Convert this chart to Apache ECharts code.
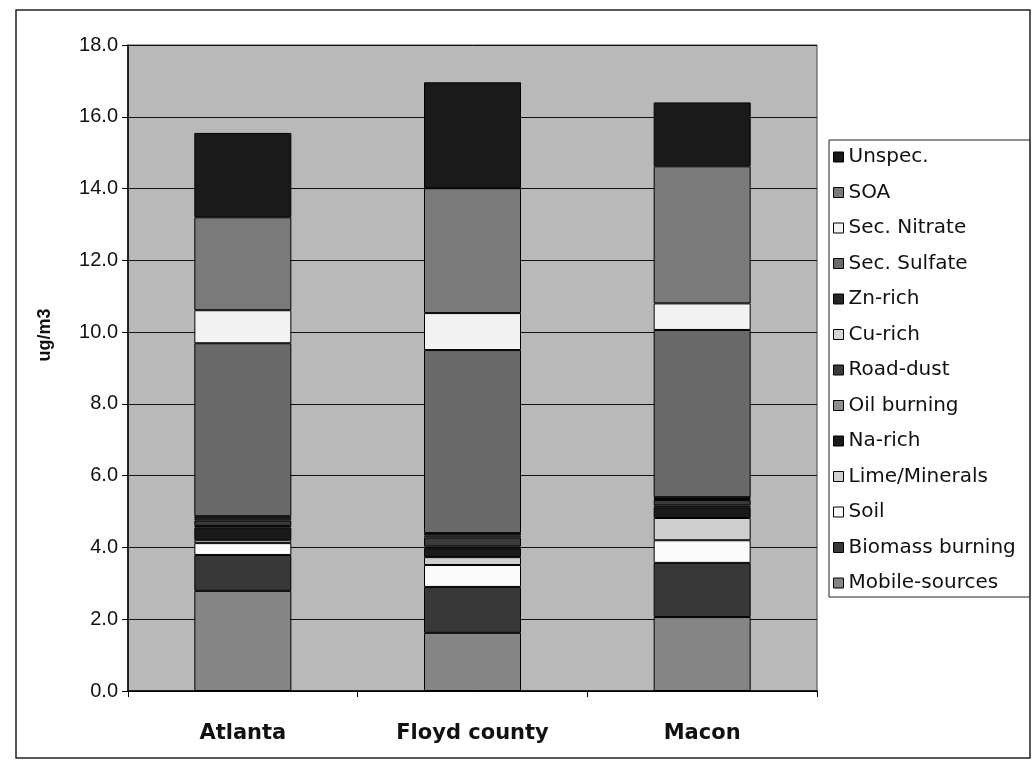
<!DOCTYPE html>
<html>
<head>
<meta charset="utf-8">
<title>PM2.5 source contributions</title>
<script src="https://cdn.jsdelivr.net/npm/echarts@6/dist/echarts.min.js"></script>
<style>
  html, body { margin: 0; padding: 0; background: #fff; }
  #chart { width: 1032px; height: 768px; }
</style>
</head>
<body>
<div id="chart"></div>
<script>
// Sites along the x axis
const sites = ['Atlanta', 'Floyd county', 'Macon'];

// Source contributions (ug/m3), stacked from the bottom up
const mobileSources   = [2.79, 1.62, 2.06];
const biomassBurning  = [1.00, 1.28, 1.51];
const soil            = [0.33, 0.61, 0.63];
const limeMinerals    = [0.08, 0.22, 0.62];
const naRich          = [0.35, 0.25, 0.30];
const oilBurning      = [0.05, 0.05, 0.05];
const roadDust        = [0.15, 0.25, 0.15];
const cuRich          = [0.05, 0.05, 0.03];
const znRich          = [0.07, 0.07, 0.05];
const secSulfate      = [4.82, 5.10, 4.66];
const secNitrate      = [0.92, 1.03, 0.74];
const soa             = [2.59, 3.48, 3.82];
const unspec          = [2.35, 2.95, 1.78];

// Y axis ticks
const yTicks = [0, 2, 4, 6, 8, 10, 12, 14, 16, 18];

const stackOrder = [
  ['Mobile-sources',  mobileSources,  '#858585'],
  ['Biomass burning', biomassBurning, '#383838'],
  ['Soil',            soil,           '#fbfbfb'],
  ['Lime/Minerals',   limeMinerals,   '#cfcfcf'],
  ['Na-rich',         naRich,         '#1a1a1a'],
  ['Oil burning',     oilBurning,     '#8e8e8e'],
  ['Road-dust',       roadDust,       '#3a3a3a'],
  ['Cu-rich',         cuRich,         '#d6d6d6'],
  ['Zn-rich',         znRich,         '#262626'],
  ['Sec. Sulfate',    secSulfate,     '#6a6a6a'],
  ['Sec. Nitrate',    secNitrate,     '#f2f2f2'],
  ['SOA',             soa,            '#7a7a7a'],
  ['Unspec.',         unspec,         '#1a1a1a']
];

const series = stackOrder.map(([name, data, color]) => ({
  name: name,
  type: 'bar',
  stack: 'total',
  barWidth: 97,
  data: data,
  itemStyle: { color: color, borderColor: '#000', borderWidth: 1 },
  emphasis: { disabled: true }
}));

const chart = echarts.init(document.getElementById('chart'), null, { renderer: 'canvas' });

chart.setOption({
  animation: false,
  backgroundColor: '#ffffff',
  textStyle: { fontFamily: '"Liberation Sans", Arial, sans-serif' },
  graphic: [
    {
      type: 'rect',
      shape: { x: 16, y: 10, width: 1014, height: 748 },
      style: { fill: 'none', stroke: '#222', lineWidth: 1.5 },
      silent: true,
      z: -10
    },
    {
      // value axis title
      type: 'text',
      x: 45,
      y: 335,
      rotation: Math.PI / 2,
      style: {
        text: 'ug/m3',
        fontSize: 18,
        fontWeight: 'bold',
        fontFamily: '"Liberation Sans", Arial, sans-serif',
        fill: '#111',
        align: 'center',
        verticalAlign: 'middle'
      },
      silent: true
    }
  ],
  grid: {
    left: 128, top: 45, right: 215, bottom: 77,
    show: true,
    backgroundColor: '#b9b9b9',
    borderColor: '#444',
    borderWidth: 1
  },
  legend: {
    orient: 'vertical',
    left: 829,
    top: 140,
    data: stackOrder.map(s => s[0]).reverse(),
    icon: 'rect',
    itemWidth: 10,
    itemHeight: 10,
    itemGap: 13.5,
    padding: [6, 14, 3, 4],
    borderColor: '#222',
    borderWidth: 1,
    backgroundColor: '#fff',
    itemStyle: { borderColor: '#000', borderWidth: 1 },
    textStyle: { fontSize: 20, fontFamily: '"DejaVu Sans", sans-serif', color: '#111', lineHeight: 22 },
    selectedMode: false
  },
  xAxis: {
    type: 'category',
    data: sites,
    axisLine: { lineStyle: { color: '#000', width: 1.5 } },
    axisTick: { show: true, alignWithLabel: false, length: 6, lineStyle: { color: '#000' } },
    axisLabel: { fontSize: 21, fontWeight: 'bold', fontFamily: '"DejaVu Sans", sans-serif', color: '#111', margin: 32 },
    splitLine: { show: false }
  },
  yAxis: {
    type: 'value',
    min: yTicks[0],
    max: yTicks[yTicks.length - 1],
    interval: yTicks[1] - yTicks[0],
    axisLine: { show: true, lineStyle: { color: '#000', width: 1.5 } },
    axisTick: { show: true, length: 6, lineStyle: { color: '#000' } },
    axisLabel: { fontSize: 20, fontFamily: '"Liberation Sans", Arial, sans-serif', color: '#111', margin: 10, formatter: v => v.toFixed(1) },
    splitLine: { show: true, lineStyle: { color: '#111', width: 1 } }
  },
  series: series
});
</script>
</body>
</html>
